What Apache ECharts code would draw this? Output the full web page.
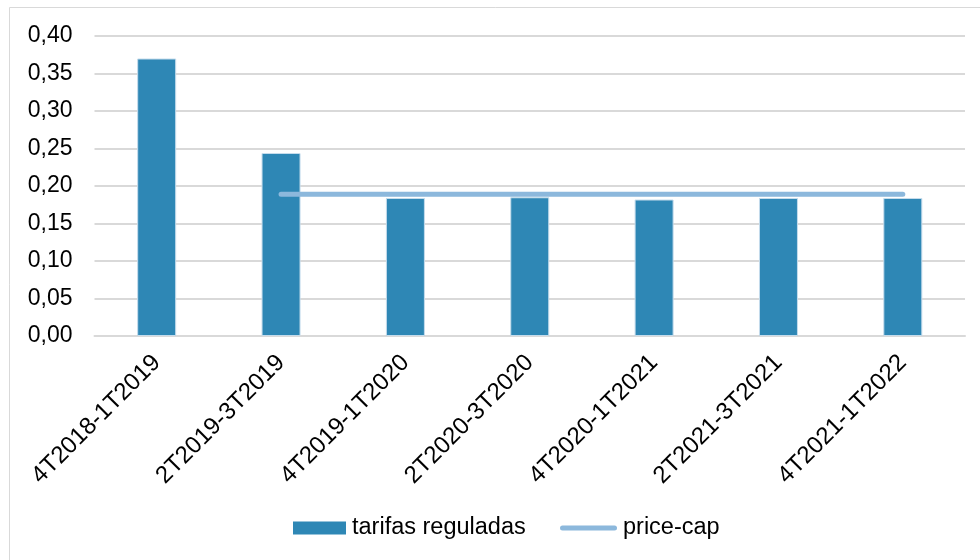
<!DOCTYPE html>
<html>
<head>
<meta charset="utf-8">
<script src="https://cdn.jsdelivr.net/npm/echarts@6/dist/echarts.min.js"></script>
<style>
  html, body { margin: 0; padding: 0; background: #fff; }
  #chart { width: 980px; height: 560px; }
</style>
</head>
<body>
<div id="chart"></div>
<script>
// Quarter periods on the category axis
var categories = ['4T2018-1T2019', '2T2019-3T2019', '4T2019-1T2020', '2T2020-3T2020',
                  '4T2020-1T2021', '2T2021-3T2021', '4T2021-1T2022'];
// Regulated tariff per period
var tarifasReguladas = [0.370, 0.244, 0.184, 0.185, 0.182, 0.184, 0.184];
// Price cap applied from the second period onward
var priceCap = ['-', 0.189, 0.189, 0.189, 0.189, 0.189, 0.189];
// Value-axis range
var yMin = 0, yMax = 0.40, yStep = 0.05;

var FONT = '"Liberation Sans", Arial, sans-serif';
var BAR_COLOR = '#2e87b5';
var CAP_COLOR = '#8cb8dc';
var chart = echarts.init(document.getElementById('chart'), null, { renderer: 'canvas' });

// capsule-shaped legend key for the price-cap line
var capsule = 'path://M2.5,0 L54.5,0 A2.5,2.5 0 0 1 54.5,5 L2.5,5 A2.5,2.5 0 0 1 2.5,0 Z';

chart.setOption({
  animation: false,
  backgroundColor: '#ffffff',
  graphic: [{
    type: 'rect',
    shape: { x: 9.5, y: 7.5, width: 990, height: 570 },
    style: { fill: 'none', stroke: '#d9d9d9', lineWidth: 1 },
    silent: true
  }],
  grid: { left: 94.5, right: 15, top: 36, bottom: 224 },
  legend: [
    {
      left: 293,
      top: 516,
      padding: 0,
      itemWidth: 53,
      itemHeight: 13,
      itemStyle: { borderWidth: 0, color: BAR_COLOR },
      textStyle: { fontFamily: FONT, fontSize: 23.5, color: '#000', padding: [0, 0, 0, 1] },
      data: [{ name: 'tarifas reguladas', icon: 'rect' }]
    },
    {
      left: 560,
      top: 516,
      padding: 0,
      itemWidth: 57,
      itemHeight: 5,
      itemStyle: { borderWidth: 0, color: CAP_COLOR },
      textStyle: { fontFamily: FONT, fontSize: 23.5, color: '#000', padding: [0, 0, 0, 1] },
      data: [{ name: 'price-cap', icon: capsule }]
    }
  ],
  xAxis: {
    type: 'category',
    data: categories,
    axisTick: { show: false },
    axisLine: { lineStyle: { color: '#d9d9d9', width: 2 } },
    axisLabel: {
      rotate: 45,
      interval: 0,
      margin: 23,
      fontFamily: FONT,
      fontSize: 24,
      color: '#000'
    }
  },
  yAxis: {
    type: 'value',
    min: yMin,
    max: yMax,
    interval: yStep,
    axisLine: { show: false },
    axisTick: { show: false },
    splitLine: { lineStyle: { color: '#d9d9d9', width: 2 } },
    axisLabel: {
      margin: 22,
      fontFamily: FONT,
      fontSize: 23,
      color: '#000',
      formatter: function (v) { return v.toFixed(2).replace('.', ','); }
    }
  },
  series: [
    {
      name: 'tarifas reguladas',
      type: 'bar',
      data: tarifasReguladas,
      barWidth: 39,
      itemStyle: { color: BAR_COLOR, borderColor: '#c5dcec', borderWidth: 1 }
    },
    {
      name: 'price-cap',
      type: 'line',
      data: priceCap,
      symbol: 'none',
      showSymbol: false,
      itemStyle: { color: CAP_COLOR },
      lineStyle: { color: CAP_COLOR, width: 5, cap: 'round' },
      z: 3
    }
  ]
});
</script>
</body>
</html>
